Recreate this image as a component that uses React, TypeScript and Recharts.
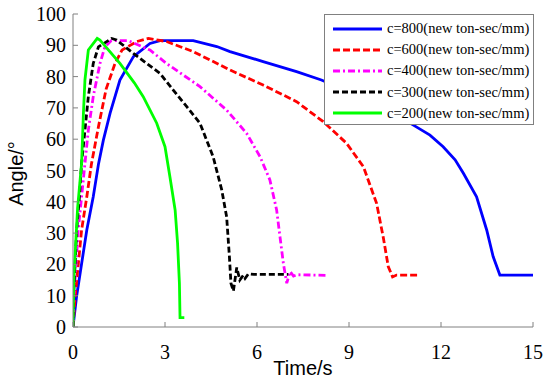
import { LineChart, Line, XAxis, YAxis, Label } from 'recharts';

type Pt = [number, number];

const xTicks = [0, 3, 6, 9, 12, 15];
const yTicks = [0, 10, 20, 30, 40, 50, 60, 70, 80, 90, 100];

// time (s), angle (deg)
const c800: Pt[] = [
  [0, 0], [0.12, 10], [0.45, 31], [0.66, 41.6], [0.83, 52], [0.99, 59.7], [1.21, 68.3],
  [1.53, 78.9], [1.97, 86.4], [2.51, 90.6], [2.84, 91.5], [3.92, 91.5], [4.69, 89.6],
  [5.12, 88], [6.2, 84.8], [7.29, 81.6], [8.1, 78.9], [9.5, 73], [10.5, 68], [11.1, 64.5],
  [11.64, 61.3], [12.07, 57.6], [12.46, 53.4], [12.73, 49.1], [13.16, 41.6], [13.49, 31],
  [13.7, 22.5], [13.92, 16.6], [15, 16.6],
];
const c600: Pt[] = [
  [0, 0], [0.07, 9.7], [0.28, 31], [0.45, 41.6], [0.6, 52], [0.83, 64], [1.08, 76],
  [1.37, 84.2], [1.6, 88.5], [2.08, 91.2], [2.46, 92.2], [3.05, 91.2], [3.92, 88],
  [5.12, 82.1], [6.2, 77.3], [7.29, 72], [8.16, 65.6], [8.92, 58.7], [9.47, 51.2],
  [9.9, 39.5], [10.12, 28.5], [10.28, 19.3], [10.42, 16], [10.55, 16.6], [11.22, 16.6],
];
const c400: Pt[] = [
  [0, 0], [0.03, 9.7], [0.17, 31], [0.28, 41.6], [0.39, 52.3], [0.5, 62.9], [0.66, 73.6],
  [0.88, 84.2], [1.04, 89.5], [1.25, 91.5], [1.8, 91.5], [2.51, 88.5], [3.05, 84.2],
  [4.14, 76.8], [5.01, 69.3], [5.66, 61.9], [6.1, 54.4], [6.42, 47], [6.64, 37.4],
  [6.75, 28.8], [6.86, 20.3], [6.97, 14], [7.08, 17.7], [7.19, 16.3], [7.3, 16.7],
  [8.27, 16.5],
];
const c300: Pt[] = [
  [0, 0], [0.03, 12], [0.12, 31], [0.21, 41.6], [0.28, 52.3], [0.39, 62.9], [0.5, 73.6],
  [0.66, 84.2], [0.83, 89.5], [1.26, 92.2], [1.42, 91.7], [1.97, 87.4], [2.84, 81],
  [3.27, 75.7], [3.71, 70.4], [4.14, 65.1], [4.57, 54.4], [4.85, 43.8], [5.01, 35.2],
  [5.1, 22.5], [5.15, 14], [5.23, 11.5], [5.34, 19], [5.44, 15], [5.55, 16.5],
  [5.61, 15.5], [5.72, 17], [5.9, 16.8], [7.02, 16.8],
];
const c200: Pt[] = [
  [0, 0], [0.03, 16], [0.15, 38], [0.28, 52.3], [0.34, 68.3], [0.39, 79], [0.5, 88.5],
  [0.79, 92.2], [0.88, 91.7], [1.53, 84.2], [2.0, 78], [2.29, 73.6], [2.73, 65.1],
  [3.0, 57.6], [3.16, 48], [3.33, 37.4], [3.41, 26.7], [3.47, 14], [3.49, 3], [3.63, 3],
];

const toRows = (pts: Pt[]) => pts.map(([t, a]) => ({ t, a }));

const series = [
  { name: 'c=800(new ton-sec/mm)', pts: c800, color: '#0000ff', dash: undefined },
  { name: 'c=600(new ton-sec/mm)', pts: c600, color: '#ff0000', dash: '7 3' },
  { name: 'c=400(new ton-sec/mm)', pts: c400, color: '#ff00ff', dash: '7 3 2 3' },
  { name: 'c=300(new ton-sec/mm)', pts: c300, color: '#000000', dash: '6 3' },
  { name: 'c=200(new ton-sec/mm)', pts: c200, color: '#00ff00', dash: undefined },
];

const frame = '#808080';
const serif = 'Liberation Serif';
const sans = 'Liberation Sans';
const TICK = 5;
const GAP_X = 18;
const GAP_Y = 7;

// MATLAB-style ticks: marks point into the plot, drawn together with the label
function BottomTick({ x, y, payload }: any) {
  return (
    <g>
      <line x1={x} x2={x} y1={y - GAP_X} y2={y - GAP_X - TICK} stroke={frame} />
      <text x={x} y={y} dy="0.71em" textAnchor="middle" fill="#000" fontFamily={serif} fontSize={20}>
        {payload.value}
      </text>
    </g>
  );
}

function LeftTick({ x, y, payload }: any) {
  return (
    <g>
      <line x1={x + GAP_Y} x2={x + GAP_Y + TICK} y1={y} y2={y} stroke={frame} />
      <text x={x} y={y} dy="0.35em" textAnchor="end" fill="#000" fontFamily={serif} fontSize={20}>
        {payload.value}
      </text>
    </g>
  );
}

function TopTick({ x, y }: any) {
  return <line x1={x} x2={x} y1={y} y2={y + TICK} stroke={frame} />;
}

function RightTick({ x, y }: any) {
  return <line x1={x} x2={x - TICK} y1={y} y2={y} stroke={frame} />;
}

function LegendBox() {
  return (
    <div
      style={{
        position: 'absolute', left: 324, top: 14, width: 210, height: 111,
        background: '#fff', border: `1px solid ${frame}`, boxSizing: 'border-box',
        paddingTop: 3,
      }}
    >
      {series.map(s => (
        <div key={s.name} style={{ display: 'flex', alignItems: 'center', height: 21.2 }}>
          <svg width={62} height={10} style={{ flexShrink: 0 }}>
            <line x1={8} x2={57} y1={5} y2={5} stroke={s.color} strokeWidth={2.8} strokeDasharray={s.dash} />
          </svg>
          <span style={{ fontFamily: serif, fontSize: 14.5, color: '#000', whiteSpace: 'nowrap' }}>
            {s.name}
          </span>
        </div>
      ))}
    </div>
  );
}

export default function App() {
  return (
    <div style={{ position: 'absolute', left: 0, top: 0, width: 550, height: 385, background: '#fff' }}>
      <LineChart width={550} height={385} margin={{ top: 14, right: 17, bottom: 0, left: 0 }}>
        <XAxis
          dataKey="t" type="number" domain={[0, 15]} ticks={xTicks} height={58}
          stroke={frame} tickLine={false} tickSize={0} tickMargin={GAP_X}
          tick={BottomTick} allowDataOverflow
        >
          <Label
            content={({ viewBox }: any) => (
              <text x={viewBox.x + viewBox.width / 2} y={375} textAnchor="middle" fill="#000"
                fontFamily={sans} fontSize={20}>
                Time/s
              </text>
            )}
          />
        </XAxis>
        <XAxis
          xAxisId="top" orientation="top" type="number" domain={[0, 15]} ticks={xTicks} height={0}
          stroke={frame} tickLine={false} tickSize={0} tickMargin={0} tick={TopTick}
        />
        <YAxis
          type="number" domain={[0, 100]} ticks={yTicks} width={73}
          stroke={frame} tickLine={false} tickSize={0} tickMargin={GAP_Y}
          tick={LeftTick} allowDataOverflow
        >
          <Label
            content={({ viewBox }: any) => {
              const cx = 23;
              const cy = viewBox.y + viewBox.height / 2 + 3;
              return (
                <text x={cx} y={cy} transform={`rotate(-90 ${cx} ${cy})`} textAnchor="middle" fill="#000"
                  fontFamily={sans} fontSize={20}>
                  Angle/°
                </text>
              );
            }}
          />
        </YAxis>
        <YAxis
          yAxisId="right" orientation="right" type="number" domain={[0, 100]} ticks={yTicks} width={0}
          stroke={frame} tickLine={false} tickSize={0} tickMargin={0} tick={RightTick}
        />
        {series.map(s => (
          <Line
            key={s.name}
            data={toRows(s.pts)}
            dataKey="a"
            type="linear"
            stroke={s.color}
            strokeWidth={2.8}
            strokeDasharray={s.dash}
            dot={false}
            activeDot={false}
            isAnimationActive={false}
          />
        ))}
      </LineChart>
      <LegendBox />
    </div>
  );
}
